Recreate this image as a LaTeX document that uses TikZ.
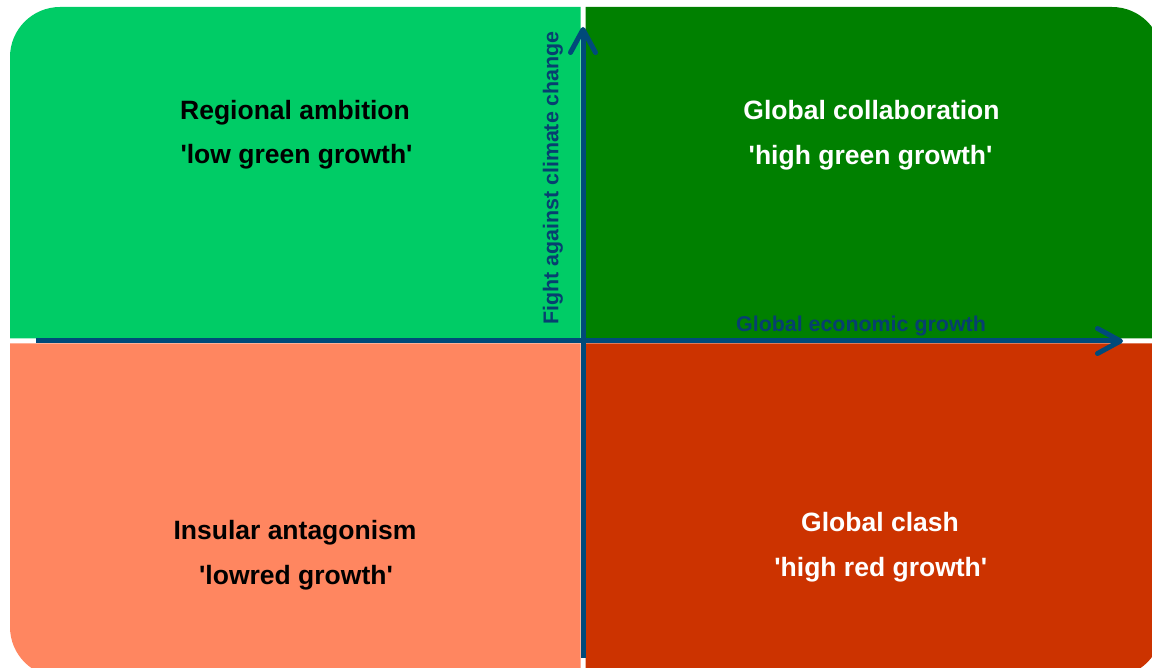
\documentclass[tikz,border=0pt]{standalone}
\usepackage{fontspec}
\newfontfamily\qfont{Liberation Sans}
\usetikzlibrary{arrows.meta}
\definecolor{qlight}{HTML}{00CC66}
\definecolor{qdark}{HTML}{008000}
\definecolor{qsalmon}{HTML}{FF8660}
\definecolor{qred}{HTML}{CC3300}
\definecolor{axisblue}{HTML}{004A7A}
\definecolor{labelblue}{HTML}{073F70}
\tikzset{
  title/.style={anchor=base, inner sep=0pt, font=\qfont\fontsize{26.5}{30}\selectfont\bfseries},
  axislabel/.style={anchor=base, inner sep=0pt, text=labelblue, font=\qfont\fontsize{21.4}{26}\selectfont\bfseries},
  axisline/.style={draw=axisblue, line width=5pt, -{Straight Barb[length=23pt, width=25pt, round]}}
}
\begin{document}
\begin{tikzpicture}[x=1pt, y=-1pt]
\useasboundingbox (0,0) rectangle (1152,668);
\clip (0,0) rectangle (1152,668);
% quadrants
\fill[qlight] (580.5,338.5) -- (10,338.5) -- (10,57) .. controls (10,29.4) and (32.4,7) .. (60,7) -- (580.5,7) -- cycle;
\fill[qdark] (585.5,338.5) -- (585.5,7) -- (1112,7) .. controls (1139.6,7) and (1162,29.4) .. (1162,57) -- (1162,338.5) -- cycle;
\fill[qsalmon] (580.5,343.5) -- (10,343.5) -- (10,627) .. controls (10,654.6) and (32.4,677) .. (60,677) -- (580.5,677) -- cycle;
\fill[qred] (585.5,343.5) -- (1162,343.5) -- (1162,627) .. controls (1162,654.6) and (1139.6,677) .. (1112,677) -- (585.5,677) -- cycle;
% texts
\node[title] (tl1) at (295,119.3) {Regional ambition};
\node[title] (tl2) at (296.5,164) {'low green growth'};
\node[title, text=white] (tr1) at (871.5,119.3) {Global collaboration};
\node[title, text=white] (tr2) at (870.6,164.5) {'high green growth'};
\node[title] (bl1) at (295,539.3) {Insular antagonism};
\node[title] (bl2) at (296,584) {'lowred growth'};
\node[title, text=white] (br1) at (880,531.7) {Global clash};
\node[title, text=white] (br2) at (880.8,576.7) {'high red growth'};
% axes
\coordinate (xs) at (36,341);
\coordinate (xe) at (1123,341);
\coordinate (ys) at (583,658);
\coordinate (ye) at (583,27);
\draw[axisline] (xs) -- (xe);
\draw[axisline] (ys) -- (ye);
\node[axislabel] (xl) at (861,331.7) {Global economic growth};
\node[axislabel, rotate=90] (yl) at (558.3,178) {Fight against climate change};
\end{tikzpicture}
\end{document}
